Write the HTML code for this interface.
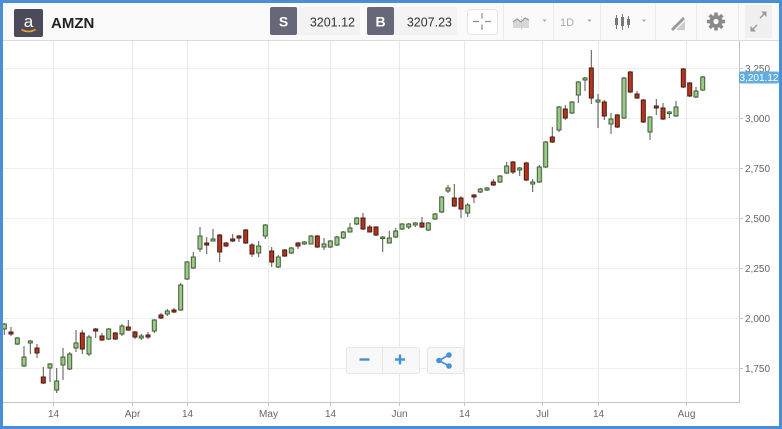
<!DOCTYPE html>
<html><head><meta charset="utf-8"><style>
html,body{margin:0;padding:0;background:#fff;}
svg{display:block;font-family:"Liberation Sans",Arial,sans-serif;}
</style></head><body>
<svg width="782" height="429" viewBox="0 0 782 429" xmlns="http://www.w3.org/2000/svg">
<rect x="0" y="0" width="782" height="429" fill="#fff"/>
<rect x="3" y="3" width="776" height="37.5" fill="#fafafa"/>
<line x1="3" y1="40.5" x2="779" y2="40.5" stroke="#dcdcdc" stroke-width="1"/>
<g stroke="#ececec" stroke-width="1">
<line x1="503.5" y1="3" x2="503.5" y2="40"/>
<line x1="553.5" y1="3" x2="553.5" y2="40"/>
<line x1="600.5" y1="3" x2="600.5" y2="40"/>
<line x1="655.5" y1="3" x2="655.5" y2="40"/>
<line x1="696.5" y1="3" x2="696.5" y2="40"/>
<line x1="738.5" y1="3" x2="738.5" y2="40"/>
</g>
<rect x="14" y="9" width="29" height="28" rx="2" fill="#4b4b5a"/>
<text x="28.5" y="27" font-size="17" fill="#fff" text-anchor="middle">a</text>
<path d="M21.5 29.5 Q28.5 33.5 35.5 29.5" stroke="#f0a030" stroke-width="1.6" fill="none"/>
<text x="51" y="28" font-size="15" font-weight="bold" fill="#222">AMZN</text>
<rect x="270" y="7" width="90" height="28" rx="2" fill="#f3f3f3"/>
<rect x="270" y="7" width="27" height="28" rx="2" fill="#666779"/>
<text x="283.5" y="26.5" font-size="14" font-weight="bold" fill="#fff" text-anchor="middle">S</text>
<text x="355" y="26.5" font-size="12.5" fill="#333" text-anchor="end">3201.12</text>
<rect x="367" y="7" width="90" height="28" rx="2" fill="#f3f3f3"/>
<rect x="367" y="7" width="27" height="28" rx="2" fill="#666779"/>
<text x="380.5" y="26.5" font-size="14" font-weight="bold" fill="#fff" text-anchor="middle">B</text>
<text x="452" y="26.5" font-size="12.5" fill="#333" text-anchor="end">3207.23</text>
<rect x="467.5" y="9.5" width="30" height="25" rx="3" fill="#fff" stroke="#e6e6e6"/>
<g stroke="#8a8a8a" stroke-width="1.2">
<line x1="473" y1="21.5" x2="479" y2="21.5"/><line x1="485" y1="21.5" x2="491" y2="21.5"/>
<line x1="482" y1="13" x2="482" y2="18.5"/><line x1="482" y1="24.5" x2="482" y2="30"/>
</g>
<path d="M513 28 L513 22 L517 19 L521 22 L525 18 L529 20 L529 28 Z" fill="#d8d8d8"/>
<polyline points="513,22 517,19 521,22 525,18 529,20" fill="none" stroke="#999" stroke-width="1.2"/>
<line x1="521.5" y1="16" x2="521.5" y2="30" stroke="#bbb" stroke-width="0.8" stroke-dasharray="1.5,1.5"/>
<path d="M542.5 19.5 L546.5 19.5 L544.5 22 Z" fill="#aaa"/>
<text x="567" y="26" font-size="11" fill="#aaa" text-anchor="middle">1D</text>
<path d="M587.5 19.5 L591.5 19.5 L589.5 22 Z" fill="#aaa"/>
<g stroke="#777" stroke-width="1">
<line x1="616.5" y1="15" x2="616.5" y2="29"/><line x1="622.5" y1="14" x2="622.5" y2="30"/><line x1="628.5" y1="16" x2="628.5" y2="28"/>
</g>
<rect x="615" y="18" width="3" height="7" fill="#777"/>
<rect x="621" y="17" width="3" height="9" fill="#777"/>
<rect x="627" y="19" width="3" height="6" fill="#777"/>
<path d="M642 19.5 L646 19.5 L644 22 Z" fill="#aaa"/>
<path d="M671 29 L683 17 L685 19 L673 31 Z" fill="#999"/>
<path d="M676 30 L685 30 L685 21 Z" fill="#ccc"/>
<g transform="translate(716,21.5)">
<circle r="6.5" fill="#8a8a8a"/>
<g fill="#8a8a8a">
<rect x="-1.8" y="-9" width="3.6" height="18"/>
<rect x="-1.8" y="-9" width="3.6" height="18" transform="rotate(45)"/>
<rect x="-1.8" y="-9" width="3.6" height="18" transform="rotate(90)"/>
<rect x="-1.8" y="-9" width="3.6" height="18" transform="rotate(135)"/>
</g>
<circle r="2.6" fill="#fafafa"/>
</g>
<rect x="745" y="5" width="27" height="33" fill="#f0f0f0"/>
<g stroke="#999" stroke-width="1.4" fill="none">
<line x1="752" y1="30" x2="757" y2="25"/><line x1="760" y1="18" x2="765" y2="13"/>
</g>
<path d="M750.5 31.5 L750.5 26 L756 31.5 Z" fill="#999"/>
<path d="M766.5 11.5 L766.5 17 L761 11.5 Z" fill="#999"/>
<g stroke="#e8e8e8" stroke-width="1">
<line x1="53.5" y1="41" x2="53.5" y2="402"/>
<line x1="132.5" y1="41" x2="132.5" y2="402"/>
<line x1="187.5" y1="41" x2="187.5" y2="402"/>
<line x1="268.5" y1="41" x2="268.5" y2="402"/>
<line x1="330.5" y1="41" x2="330.5" y2="402"/>
<line x1="399.5" y1="41" x2="399.5" y2="402"/>
<line x1="464.5" y1="41" x2="464.5" y2="402"/>
<line x1="542.5" y1="41" x2="542.5" y2="402"/>
<line x1="598.5" y1="41" x2="598.5" y2="402"/>
<line x1="686.5" y1="41" x2="686.5" y2="402"/>
</g>
<g stroke="#f0f0f0" stroke-width="1">
<line x1="3" y1="68.5" x2="740" y2="68.5"/>
<line x1="3" y1="118.5" x2="740" y2="118.5"/>
<line x1="3" y1="168.5" x2="740" y2="168.5"/>
<line x1="3" y1="218.5" x2="740" y2="218.5"/>
<line x1="3" y1="268.5" x2="740" y2="268.5"/>
<line x1="3" y1="318.5" x2="740" y2="318.5"/>
<line x1="3" y1="368.5" x2="740" y2="368.5"/>
</g>
<g stroke="#c4c4c4" stroke-width="1">
<line x1="739.5" y1="41" x2="739.5" y2="402.5"/>
<line x1="3" y1="402.5" x2="740" y2="402.5"/>
<line x1="53.5" y1="402" x2="53.5" y2="406"/>
<line x1="132.5" y1="402" x2="132.5" y2="406"/>
<line x1="187.5" y1="402" x2="187.5" y2="406"/>
<line x1="268.5" y1="402" x2="268.5" y2="406"/>
<line x1="330.5" y1="402" x2="330.5" y2="406"/>
<line x1="399.5" y1="402" x2="399.5" y2="406"/>
<line x1="464.5" y1="402" x2="464.5" y2="406"/>
<line x1="542.5" y1="402" x2="542.5" y2="406"/>
<line x1="598.5" y1="402" x2="598.5" y2="406"/>
<line x1="686.5" y1="402" x2="686.5" y2="406"/>
<line x1="740" y1="68.5" x2="743" y2="68.5"/>
<line x1="740" y1="118.5" x2="743" y2="118.5"/>
<line x1="740" y1="168.5" x2="743" y2="168.5"/>
<line x1="740" y1="218.5" x2="743" y2="218.5"/>
<line x1="740" y1="268.5" x2="743" y2="268.5"/>
<line x1="740" y1="318.5" x2="743" y2="318.5"/>
<line x1="740" y1="368.5" x2="743" y2="368.5"/>
</g>
<g font-size="10" fill="#666" text-anchor="middle">
<text x="53.5" y="417">14</text>
<text x="132.5" y="417">Apr</text>
<text x="187.5" y="417">14</text>
<text x="268.5" y="417">May</text>
<text x="330.5" y="417">14</text>
<text x="399.5" y="417">Jun</text>
<text x="464.5" y="417">14</text>
<text x="542.5" y="417">Jul</text>
<text x="598.5" y="417">14</text>
<text x="686.5" y="417">Aug</text>
</g>
<g font-size="10" fill="#666">
<text x="745" y="72">3,250</text>
<text x="745" y="122">3,000</text>
<text x="745" y="172">2,750</text>
<text x="745" y="222">2,500</text>
<text x="745" y="272">2,250</text>
<text x="745" y="322">2,000</text>
<text x="745" y="372">1,750</text>
</g>
<rect x="739" y="71.5" width="40" height="12" rx="2" fill="#62ace0"/>
<text x="759" y="81" font-size="10" fill="#fff" text-anchor="middle">3,201.12</text>
<path stroke="#555" stroke-width="1" fill="none" d="M4.3 323V335M11 327V336M17.3 337V345M24 346V367M30.3 340V354M37 344V358M43.3 367V384M50 363V382M56.7 368V393M63 348V380M69.7 352V370M76 330V352M82.3 330V354M89 335V356M95.7 328V338M102 333V341M108.7 328V340M115.3 332V340M122 324V336M128.3 320V331M135 331V339M141.3 334V340M148 332V339M154.3 319V333M161 313V319M167.3 309V316M174 308V313M180.7 283V311M187 261V280M193.3 252V269M200 227V252M206.7 237V254M213 229V241M219.7 234V262M226 242V247M232.7 234V242M239 235V242M245.7 229V244M252 243V257M258.7 241V257M265.3 224V239M271.7 247V267M278.3 255V268M284.7 249V257M291.3 247V254M298 242V249M304.3 241V245M311 235V244M317.3 235V248M324 238V250M330.3 240V248M337 236V246M343.3 231V239M350 223V232M356.7 217V225M363 213V230M369.7 225V232M376 226V236M382.7 236V252M389.3 231V243M395.7 228V238M402 223V230M408.7 223V229M415.3 222V227M422 217V228M428.3 222V231M435 213V220M441.7 196V213M448 185V193M454.3 184V207M461 196V218M467.7 203V217M474 194V203M480.3 188V193M487 187V191M493.3 179V186M500 175V183M506.7 162V174M513 161V174M519.7 167V176M526.3 162V181M532.7 179V192M539.3 165V183M545.7 141V168M552.3 127V143M559 106V132M565.3 105V120M572 101V114M578.3 81V103M585 77V91M591.3 50V104M598 94V128M604.3 100V120M611 113V134M617.3 114V128M624 77V119M630.3 71V93M637 91V99M643.3 99V123M650 116V140M656.3 99V115M663 103V120M669.3 111V118M676 101V117M683.3 68V88M689.7 82V97M696 87V98M702.7 76V91"/>
<g transform="translate(-0.5,0)">
<g fill="#9cc98a" stroke="#3e5c33" stroke-width="1">
<rect x="2.8" y="324" width="4" height="5"/>
<rect x="15.8" y="338" width="4" height="6"/>
<rect x="22.5" y="357" width="4" height="9"/>
<rect x="28.8" y="341" width="4" height="2"/>
<rect x="48.5" y="364" width="4" height="4"/>
<rect x="55.2" y="381" width="4" height="9"/>
<rect x="61.5" y="357" width="4" height="8"/>
<rect x="68.2" y="354" width="4" height="15"/>
<rect x="74.5" y="343" width="4" height="5"/>
<rect x="87.5" y="337" width="4" height="17"/>
<rect x="107.2" y="329" width="4" height="10"/>
<rect x="120.5" y="326" width="4" height="8"/>
<rect x="139.8" y="336" width="4" height="2"/>
<rect x="152.8" y="320" width="4" height="11"/>
<rect x="165.8" y="311" width="4" height="3"/>
<rect x="179.2" y="285" width="4" height="25"/>
<rect x="185.5" y="262" width="4" height="17"/>
<rect x="191.8" y="257" width="4" height="11"/>
<rect x="198.5" y="236" width="4" height="13"/>
<rect x="211.5" y="239" width="4" height="2"/>
<rect x="257.2" y="246" width="4" height="7"/>
<rect x="263.8" y="225" width="4" height="11"/>
<rect x="276.8" y="257" width="4" height="10"/>
<rect x="289.8" y="248" width="4" height="5"/>
<rect x="302.8" y="242" width="4" height="2"/>
<rect x="309.5" y="236" width="4" height="8"/>
<rect x="322.5" y="244" width="4" height="3"/>
<rect x="328.8" y="241" width="4" height="6"/>
<rect x="335.5" y="237" width="4" height="8"/>
<rect x="341.8" y="232" width="4" height="6"/>
<rect x="348.5" y="228" width="4" height="4"/>
<rect x="355.2" y="218" width="4" height="6"/>
<rect x="381.2" y="237" width="4" height="1.5"/>
<rect x="387.8" y="238" width="4" height="5"/>
<rect x="394.2" y="231" width="4" height="6"/>
<rect x="400.5" y="224" width="4" height="5"/>
<rect x="407.2" y="224" width="4" height="3"/>
<rect x="413.8" y="223" width="4" height="2"/>
<rect x="426.8" y="223" width="4" height="7"/>
<rect x="433.5" y="214" width="4" height="5"/>
<rect x="440.2" y="197" width="4" height="15"/>
<rect x="446.5" y="188" width="4" height="3"/>
<rect x="466.2" y="205" width="4" height="8"/>
<rect x="478.8" y="189" width="4" height="3"/>
<rect x="485.5" y="188" width="4" height="2"/>
<rect x="498.5" y="176" width="4" height="6"/>
<rect x="505.2" y="166" width="4" height="7"/>
<rect x="518.2" y="168" width="4" height="2"/>
<rect x="531.2" y="182" width="4" height="2"/>
<rect x="537.8" y="167" width="4" height="15"/>
<rect x="544.2" y="142" width="4" height="25"/>
<rect x="557.5" y="107" width="4" height="23"/>
<rect x="570.5" y="102" width="4" height="11"/>
<rect x="576.8" y="82" width="4" height="13"/>
<rect x="583.5" y="78" width="4" height="2"/>
<rect x="596.5" y="100" width="4" height="2"/>
<rect x="609.5" y="119" width="4" height="5"/>
<rect x="622.5" y="78" width="4" height="40"/>
<rect x="648.5" y="117" width="4" height="15"/>
<rect x="667.8" y="112" width="4" height="1.5"/>
<rect x="674.5" y="107" width="4" height="9"/>
<rect x="694.5" y="91" width="4" height="6"/>
<rect x="701.2" y="77" width="4" height="13"/>
</g>
<g fill="#b2351f" stroke="#4a1a10" stroke-width="1">
<rect x="9.5" y="332" width="4" height="2"/>
<rect x="35.5" y="348" width="4" height="5"/>
<rect x="41.8" y="377" width="4" height="6"/>
<rect x="80.8" y="333" width="4" height="16"/>
<rect x="94.2" y="329" width="4" height="2"/>
<rect x="100.5" y="336" width="4" height="4"/>
<rect x="113.8" y="333" width="4" height="6"/>
<rect x="126.8" y="327" width="4" height="3"/>
<rect x="133.5" y="332" width="4" height="5"/>
<rect x="146.5" y="335" width="4" height="2"/>
<rect x="159.5" y="315" width="4" height="3"/>
<rect x="172.5" y="310" width="4" height="2"/>
<rect x="205.2" y="243" width="4" height="2"/>
<rect x="218.2" y="235" width="4" height="17"/>
<rect x="224.5" y="243" width="4" height="3"/>
<rect x="231.2" y="239" width="4" height="2"/>
<rect x="237.5" y="236" width="4" height="2"/>
<rect x="244.2" y="230" width="4" height="13"/>
<rect x="250.5" y="245" width="4" height="9"/>
<rect x="270.2" y="251" width="4" height="11"/>
<rect x="283.2" y="250" width="4" height="6"/>
<rect x="296.5" y="243" width="4" height="3"/>
<rect x="315.8" y="236" width="4" height="11"/>
<rect x="361.5" y="218" width="4" height="11"/>
<rect x="368.2" y="227" width="4" height="5"/>
<rect x="374.5" y="227" width="4" height="8"/>
<rect x="420.5" y="223" width="4" height="4"/>
<rect x="452.8" y="198" width="4" height="8"/>
<rect x="459.5" y="198" width="4" height="11"/>
<rect x="472.5" y="195" width="4" height="2"/>
<rect x="491.8" y="182" width="4" height="3"/>
<rect x="511.5" y="162" width="4" height="10"/>
<rect x="524.8" y="163" width="4" height="17"/>
<rect x="550.8" y="137" width="4" height="5"/>
<rect x="563.8" y="109" width="4" height="9"/>
<rect x="589.8" y="68" width="4" height="30"/>
<rect x="602.8" y="102" width="4" height="14"/>
<rect x="615.8" y="115" width="4" height="12"/>
<rect x="628.8" y="72" width="4" height="20"/>
<rect x="635.5" y="94" width="4" height="4"/>
<rect x="641.8" y="100" width="4" height="22"/>
<rect x="654.8" y="106" width="4" height="2"/>
<rect x="661.5" y="108" width="4" height="11"/>
<rect x="681.8" y="69" width="4" height="18"/>
<rect x="688.2" y="83" width="4" height="13"/>
</g>
</g>
<rect x="346.5" y="347.5" width="73" height="26" rx="2" fill="#f8f8f8" stroke="#e6e6e6"/>
<line x1="382.5" y1="348" x2="382.5" y2="373" stroke="#e6e6e6"/>
<g stroke="#4a90d9" stroke-width="2.4">
<line x1="359.5" y1="359.5" x2="369.5" y2="359.5"/>
<line x1="395" y1="359.5" x2="405" y2="359.5"/>
<line x1="400" y1="354.5" x2="400" y2="364.5"/>
</g>
<rect x="427.5" y="347.5" width="36" height="26" rx="2" fill="#f8f8f8" stroke="#e6e6e6"/>
<g stroke="#4a90d9" stroke-width="1.6">
<line x1="439" y1="360.5" x2="449" y2="355"/>
<line x1="439" y1="360.5" x2="449" y2="366"/>
</g>
<g fill="#4a90d9">
<circle cx="439" cy="360.5" r="2.8"/>
<circle cx="449" cy="355" r="2.8"/>
<circle cx="449" cy="366" r="2.8"/>
</g>
<g fill="#4a8fd6">
<rect x="0" y="0" width="782" height="3"/>
<rect x="0" y="0" width="3" height="429"/>
<rect x="779" y="0" width="3" height="429"/>
<rect x="0" y="426" width="782" height="3"/>
</g>
</svg>
</body></html>
